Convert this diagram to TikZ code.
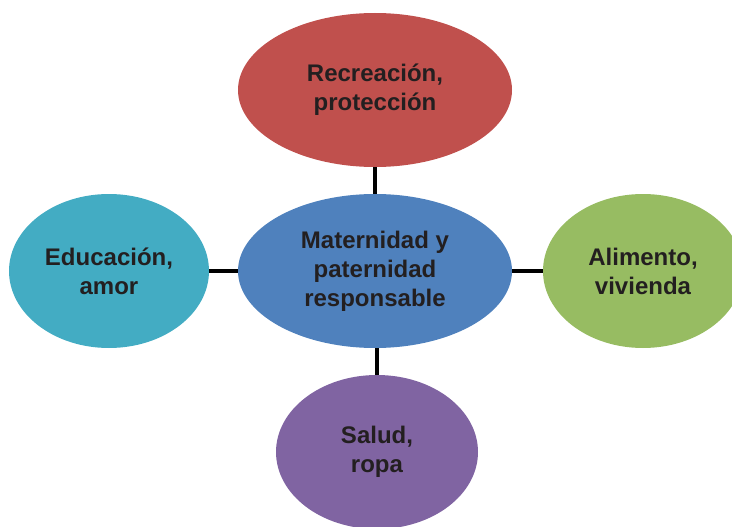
\documentclass[tikz,border=0pt]{standalone}
\usepackage{fontspec}
\setmainfont{Liberation Sans}
\usepackage{xcolor}
\usetikzlibrary{shapes.geometric}
\definecolor{txtdark}{HTML}{231F20}
\definecolor{ovred}{HTML}{C0504D}
\definecolor{ovblue}{HTML}{4F81BD}
\definecolor{ovaqua}{HTML}{43ACC3}
\definecolor{ovgreen}{HTML}{97BC62}
\definecolor{ovpurple}{HTML}{8064A2}

\begin{document}
\begin{tikzpicture}[
  every node/.style={font=\bfseries\fontsize{24}{29}\selectfont,text=txtdark},
  oval/.style  ={ellipse,draw=none,align=center,inner sep=0pt,
                 minimum width=200pt,minimum height=154pt},
  ovalw/.style ={ellipse,draw=none,align=center,inner sep=0pt,
                 minimum width=274pt,minimum height=154pt},
  link/.style  ={line width=4.5pt,black},
  x=1pt,y=-1pt]

  % ===== FRAME =====
  \useasboundingbox (0,0) rectangle (732,527);

  % ===== CENTRE + TOP ROW =====
  \node[ovalw,fill=ovblue] (mid) at (375,271)
    {Maternidad y\\paternidad\\responsable};
  \node[ovalw,fill=ovred]  (rec) at (375,90)
    {Recreación,\\protección};

  % ===== LEFT / RIGHT / BOTTOM =====
  \node[oval,fill=ovaqua]   (edu) at (109,271) {Educación,\\amor};
  \node[oval,fill=ovgreen]  (ali) at (643,271) {Alimento,\\vivienda};
  \node[oval,fill=ovpurple,minimum width=202pt] (sal) at (377,452)
    {Salud,\\ropa};

  % ===== LINKS =====
  \draw[link] (rec.south) -- (mid.north);
  \draw[link] (edu.east)  -- (mid.west);
  \draw[link] (mid.east)  -- (ali.west);
  \draw[link] (sal.north) -- (sal.north |- mid.south);

\end{tikzpicture}
\end{document}
